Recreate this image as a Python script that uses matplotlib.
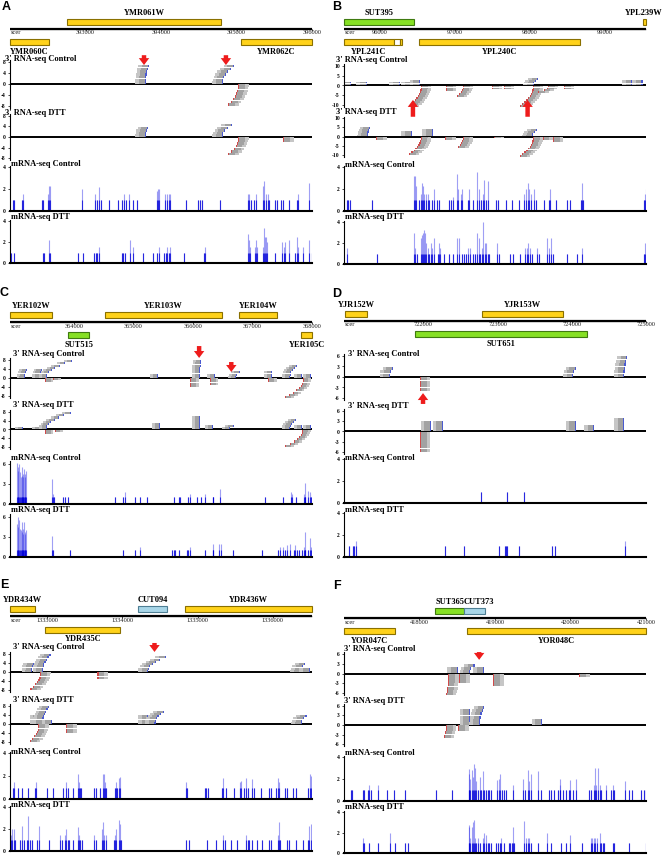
import numpy as np
import matplotlib
matplotlib.use('Agg')
import matplotlib.pyplot as plt
from matplotlib.patches import Rectangle

plt.rcParams['font.family'] = 'Liberation Serif'
plt.rcParams['axes.unicode_minus'] = False

W, H = 663, 855

# ---------------- data ----------------
# genome windows and ruler ticks
A_window = (392000, 396000)
B_window = (95520, 99550)
C_window = (362930, 368000)
D_window = (720930, 725000)
E_window = (1332507, 1336520)
F_window = (417000, 421000)

A_ticks = [393000, 394000, 395000, 396000]
B_ticks = [96000, 97000, 98000, 99000]
C_ticks = [364000, 365000, 366000, 367000, 368000]
D_ticks = [722000, 723000, 724000, 725000]
E_ticks = [1333000, 1334000, 1335000, 1336000]
F_ticks = [418000, 419000, 420000, 421000]

# genes: name, start, end, row, kind
A_genes = [('YMR061W', 392755, 394796, 'top', 'orf'),
           ('YMR060C', 392000, 392517, 'bottom', 'orf'),
           ('YMR062C', 395061, 396000, 'bottom', 'orf')]
B_genes = [('SUT395', 95520, 96453, 'top', 'sut'),
           ('YPL239W', 99505, 99545, 'top', 'orf'),
           ('YPL241C', 95520, 96187, 'bottom', 'orf'),
           ('', 96187, 96266, 'bottom', 'utr'),
           ('', 96266, 96293, 'bottom', 'orf'),
           ('YPL240C', 96520, 98666, 'bottom', 'orf')]
C_genes = [('YER102W', 362930, 363636, 'top', 'orf'),
           ('YER103W', 364526, 366492, 'top', 'orf'),
           ('YER104W', 366777, 367416, 'top', 'orf'),
           ('SUT515', 363904, 364257, 'bottom', 'sut'),
           ('YER105C', 367819, 368000, 'bottom', 'orf')]
D_genes = [('YJR152W', 720944, 721241, 'top', 'orf'),
           ('YJR153W', 722793, 723887, 'top', 'orf'),
           ('SUT651', 721889, 724211, 'bottom', 'sut')]
E_genes = [('YDR434W', 1332507, 1332840, 'top', 'orf'),
           ('CUT094', 1334213, 1334587, 'top', 'cut'),
           ('YDR436W', 1334826, 1336519, 'top', 'orf'),
           ('YDR435C', 1332974, 1333973, 'bottom', 'orf')]
F_genes = [('SUT365', 418206, 418590, 'top', 'sut'),
           ('CUT373', 418590, 418868, 'top', 'cut'),
           ('YOR047C', 417000, 417676, 'bottom', 'orf'),
           ('YOR048C', 418630, 421000, 'bottom', 'orf')]

# 3' RNA-seq read piles: (3' end in bp from window start, reads (+ up / - down), drift of 3' end across the pile)
A_ctrl3 = [(1800, 7, 40), (2820, 7, 150), (3020, -8, -130)]
A_dtt3 = [(1800, 4, 30), (2820, 5, 120), (3020, -7, -130), (3615, -2, 0)]
B_ctrl3 = [(95, 2, 0), (305, 2, 0), (745, 2, 0), (905, 2, 0), (1015, 3, 0), (1025, -11, -160),
           (1360, -3, 0), (1585, -6, -80), (1975, -2, 0), (2135, -2, 0), (2535, 4, 60),
           (2520, -11, -175), (2720, -4, -130), (2935, -2, 0), (3850, 3, 0), (3985, 3, 0)]
B_dtt3 = [(320, 5, 30), (430, -2, 0), (905, 3, 0), (1185, 4, 0), (1025, -10, -160), (1350, -2, 0),
          (1585, -6, -60), (2000, -1, 0), (2520, 4, 60), (2520, -11, -175), (2785, -3, 0), (2650, -2, 0)]
C_ctrl3 = [(250, 4, 40), (505, 4, 30), (620, 8, 420), (590, -2, 0), (720, -1, 0), (2485, 2, 0),
           (3190, 8, 20), (3025, -4, 0), (3445, 2, 0), (3360, -3, 0), (3795, 3, 60), (4400, 3, 0),
           (4335, -2, 0), (4705, 6, 120), (4905, 2, 0), (5055, 2, 0), (4920, -9, -300)]
C_dtt3 = [(220, 1, 0), (505, 1, 0), (620, 8, 400), (590, -2, 0), (755, -1, 0), (2520, 3, 0),
          (3190, 6, 0), (3410, 2, 0), (3695, 2, 60), (4705, 5, 100), (4905, 2, 0), (5055, 2, 0),
          (4905, -8, -280)]
D_ctrl3 = [(620, 3, 40), (1025, -4, 0), (3090, 3, 40), (3780, 6, 40)]
D_dtt3 = [(1175, 3, 0), (1335, 3, 0), (1025, -6, 0), (3130, 3, 0), (3375, 2, 0), (3780, 4, 0)]
E_ctrl3 = [(295, 4, 20), (440, 8, 100), (400, -8, -130), (1160, -3, 0), (1840, 7, 230),
           (3865, 4, 60), (3985, 2, 0)]
E_dtt3 = [(400, 4, 0), (440, 8, 80), (560, 2, 0), (375, -8, -110), (745, -4, 0), (1840, 4, 0),
          (1935, 6, 110), (3880, 4, 60)]
F_ctrl3 = [(1510, 2, 0), (1670, 3, 60), (1855, 2, 0), (1380, -7, -30), (1525, -3, 0),
           (1975, -4, 0), (3115, -1, 0)]
F_dtt3 = [(1670, 5, 0), (1800, 6, 60), (2625, 2, 0), (1350, -4, -30), (1510, -2, 0)]

# mRNA-seq coverage spikes: (bp from window start, height)
A_mctrl = [(40, 1), (50, 1), (155, 1), (170, 1.5), (420, 1), (435, 1), (500, 1.5), (520, 2.3), (530, 2.3),
           (960, 2), (1125, 1.5), (1150, 1), (1185, 2.2), (1205, 1), (1305, 1), (1435, 1), (1480, 1),
           (1515, 1.5), (1535, 1), (1575, 1.5), (1625, 1), (1685, 1), (1945, 1.8), (1955, 2), (1980, 2),
           (2055, 1.5), (2075, 1.5), (2100, 1.5), (2120, 1.5), (2330, 1), (2495, 1), (2520, 1), (2540, 1),
           (2785, 1), (3150, 1.5), (3170, 1.5), (3190, 1), (3235, 1), (3260, 1.5), (3355, 2.3), (3370, 2.7),
           (3390, 1.5), (3415, 1.5), (3435, 1), (3510, 1), (3535, 1), (3590, 1), (3615, 1), (3690, 1),
           (3800, 1), (3810, 1.5), (3965, 2.5)]
A_mdtt = [(10, 1), (50, 1), (440, 1), (455, 1), (520, 2.2), (530, 1), (905, 1), (965, 1), (1115, 1),
          (1135, 1), (1155, 1), (1185, 1.5), (1480, 1), (1500, 1), (1525, 1), (1590, 2.2), (1625, 1.5),
          (1760, 1), (1890, 1), (1945, 1), (1980, 1.5), (2045, 1), (2065, 1), (2085, 1.5), (2100, 1),
          (2120, 1.5), (2310, 1), (2570, 1), (2585, 1.5), (3150, 2.8), (3165, 2.2), (3180, 1.5), (3245, 1.5),
          (3260, 2.2), (3275, 1.5), (3350, 1.5), (3360, 3.3), (3380, 2.5), (3390, 2.5), (3410, 2), (3510, 1),
          (3600, 2), (3630, 1.5), (3645, 2), (3690, 2.2), (3775, 1), (3800, 2.5), (3820, 1.5), (3880, 1.5),
          (3965, 2.2), (3995, 1)]
B_mctrl = [(40, 1), (60, 1), (85, 1), (370, 1), (930, 3.2), (945, 3.2), (960, 2.3), (1005, 1), (1025, 1.5),
           (1040, 2.5), (1055, 2.3), (1070, 1.5), (1095, 1.5), (1115, 1.5), (1140, 1), (1180, 1), (1205, 2),
           (1240, 1), (1270, 1), (1405, 1), (1425, 1), (1450, 1.3), (1505, 3.4), (1525, 2), (1560, 1.5),
           (1580, 2), (1650, 1), (1670, 2), (1715, 1), (1775, 3.5), (1795, 2), (1825, 1), (1850, 1.5),
           (1870, 2.8), (1895, 1), (1915, 2.7), (2035, 1), (2050, 1), (2160, 1), (2240, 1), (2335, 1),
           (2405, 1.5), (2425, 2), (2450, 2.5), (2470, 2), (2495, 1.5), (2535, 2), (2560, 1), (2670, 1),
           (2735, 1), (2750, 2), (2825, 1), (2970, 1), (3015, 1), (3160, 1), (3180, 2.5), (3195, 1),
           (4000, 1), (4015, 1.5), (4025, 2)]
B_mdtt = [(40, 1.5), (440, 1), (930, 3), (945, 1.5), (975, 1), (1025, 2.5), (1040, 2.8), (1055, 3),
          (1070, 3.2), (1085, 3), (1100, 2), (1115, 1.5), (1140, 1), (1160, 2), (1180, 1.5), (1205, 2.5),
          (1250, 1), (1270, 2), (1285, 1.5), (1340, 1), (1405, 1), (1450, 1), (1505, 2.5), (1540, 2.5),
          (1570, 1), (1595, 1), (1625, 1), (1655, 1.5), (1685, 1.5), (1715, 1), (1745, 1), (1775, 3),
          (1795, 2.5), (1815, 1), (1835, 1.5), (1860, 4), (1880, 2), (1895, 2), (1915, 1), (1935, 1),
          (2040, 2), (2070, 1), (2215, 1), (2250, 1), (2350, 1), (2415, 1.5), (2440, 1.5), (2460, 2),
          (2485, 1.5), (2515, 1), (2580, 1.5), (2605, 1), (2715, 2.5), (2735, 1.5), (2760, 2.5), (2795, 1),
          (2970, 1), (3115, 1), (3180, 1.5), (4000, 1), (4015, 2), (4025, 1.5)]
C_mctrl = [(120, 6.2), (130, 5.5), (140, 5), (155, 6), (165, 4.8), (180, 4), (195, 5.5), (205, 4.2),
           (215, 4), (225, 4.5), (235, 5.2), (250, 4.5), (260, 4), (270, 5), (710, 3.7), (730, 1.5),
           (745, 1), (895, 1), (915, 1), (980, 1), (1755, 1), (1905, 1), (1930, 1.8), (2100, 1), (2185, 1),
           (2295, 1), (2745, 1), (2830, 1), (2855, 1), (2980, 1), (3025, 1.5), (3135, 1), (3210, 1),
           (3275, 1.5), (3400, 1), (3415, 1), (3530, 2.2), (4275, 1), (4580, 1), (4715, 1.8), (4730, 1.5),
           (4805, 1), (4930, 1.5), (4945, 3.2), (4960, 1), (5010, 2), (5040, 1.8), (5060, 1), (5070, 1.5)]
C_mdtt = [(120, 5), (130, 4.5), (140, 6), (155, 5.5), (165, 4.2), (180, 4), (195, 5.2), (205, 3.8),
          (215, 3.5), (225, 4.2), (235, 5.3), (250, 3.8), (260, 3.5), (270, 4), (710, 3.2), (730, 1),
          (1010, 1), (1905, 1), (2100, 1), (2175, 1.5), (2715, 1), (2745, 1), (2770, 1), (2840, 1),
          (2970, 1), (2995, 1), (3025, 1.5), (3275, 1), (3405, 2), (3415, 1), (3515, 2), (3540, 2),
          (3750, 1), (4230, 1), (4495, 1), (4525, 1.5), (4580, 1.5), (4610, 1), (4650, 1.8), (4695, 2),
          (4760, 1), (4790, 1.8), (4815, 1), (4860, 1), (4900, 1), (4930, 1.5), (4945, 3.8), (4960, 1),
          (5010, 1), (5030, 2.8), (5050, 1.5), (5070, 1)]
D_mctrl = [(1840, 1), (2195, 1), (2425, 1)]
D_mdtt = [(70, 1), (115, 1), (140, 1), (155, 1.5), (1365, 1), (1615, 1), (2085, 1), (2165, 1), (2180, 1),
          (2190, 1), (2365, 1), (2805, 1), (2840, 1), (3785, 1.5)]
E_mctrl = [(35, 1), (55, 1.5), (100, 1), (165, 1), (245, 1), (335, 1), (345, 1.5), (490, 1), (565, 1),
           (710, 1), (745, 1.5), (770, 1), (835, 1), (900, 2.2), (915, 1.5), (935, 1), (950, 1), (1110, 1),
           (1140, 1), (1200, 1), (1230, 2.2), (1245, 2.2), (1260, 1.5), (1280, 1), (1390, 1), (1410, 1.5),
           (1420, 1), (1445, 1.8), (1460, 1.9), (2345, 1.5), (2355, 1), (2590, 1), (2610, 1), (2630, 1),
           (2820, 1), (2835, 1.8), (2875, 1), (2975, 1), (3055, 1.5), (3075, 1.6), (3110, 1), (3140, 1.8),
           (3165, 1), (3220, 1.7), (3245, 1), (3335, 1), (3445, 1), (3465, 1), (3535, 1), (3565, 1.8),
           (3575, 1.5), (3655, 1), (3680, 1), (3755, 1), (3800, 1), (3965, 1), (3980, 2.2), (3995, 2)]
E_mdtt = [(15, 1.5), (30, 2), (55, 2), (65, 1), (135, 1), (165, 2.3), (185, 1), (220, 1), (245, 3.2),
          (265, 1), (290, 1), (355, 1), (385, 2.3), (520, 1), (660, 1.5), (690, 1), (725, 1.5), (745, 2),
          (770, 1), (780, 1), (835, 1), (900, 2.2), (920, 1.5), (935, 1), (955, 1), (1110, 1.5), (1140, 1),
          (1220, 2), (1235, 2.6), (1255, 1.5), (1280, 1.5), (1380, 1), (1390, 1.5), (1410, 2), (1445, 2.8),
          (1460, 2.5), (1475, 1), (2335, 1), (2375, 1), (2620, 1), (2735, 1), (2835, 1.5), (2855, 1),
          (2935, 1), (3020, 1), (3140, 1.5), (3165, 1), (3175, 1), (3220, 1), (3280, 1), (3355, 1),
          (3445, 1), (3465, 1), (3555, 1.5), (3570, 2.6), (3590, 1), (3680, 1), (3710, 1), (3800, 1),
          (3890, 1), (3965, 1), (3975, 2.3), (3995, 2.5)]
F_mctrl = [(95, 1), (105, 1), (250, 1), (260, 1), (315, 1), (335, 1.5), (360, 1), (445, 1.5), (565, 1),
           (665, 1), (810, 1), (1220, 1), (1430, 1), (1650, 2.9), (1660, 2.5), (1675, 2), (1690, 2.8),
           (1705, 2.2), (1720, 3.4), (1730, 3), (1750, 1.8), (1770, 1), (1795, 2.2), (1815, 1), (1840, 2.7),
           (1860, 1), (1875, 1), (1905, 1), (1925, 1), (1950, 1), (2025, 1.9), (2050, 2), (2070, 2.5),
           (2090, 1), (2115, 1), (2145, 1), (2235, 1.5), (2375, 2), (2400, 1), (2435, 2.8), (2455, 1.8),
           (2480, 2.5), (2575, 2.7), (2610, 1), (2710, 1), (2745, 1), (2785, 1), (2830, 1), (2855, 1.5),
           (2865, 2), (2900, 1), (2940, 1), (2975, 1), (3000, 1.9), (3030, 1), (3075, 2), (3250, 1),
           (3265, 1), (3310, 1.5), (3325, 3), (3340, 1.5), (3360, 3), (3385, 1.5), (3405, 1), (3470, 1.5),
           (3530, 1), (3560, 1.5), (3580, 1), (3725, 1.8), (3770, 1), (3815, 1), (3935, 1), (3970, 1),
           (4000, 1)]
F_mdtt = [(250, 1.5), (260, 1), (335, 1), (445, 1), (615, 2), (675, 1), (810, 1), (845, 1), (1650, 2.7),
          (1660, 2.5), (1675, 1.5), (1690, 2.5), (1705, 3), (1720, 3.2), (1730, 1.5), (1750, 1), (1770, 1.5),
          (1795, 1), (1840, 1.5), (1860, 2), (1880, 1.8), (1905, 1), (1925, 1), (1950, 1), (2015, 1),
          (2035, 1), (2060, 1), (2080, 1.5), (2115, 1), (2180, 1), (2200, 1), (2220, 1), (2235, 2.5),
          (2255, 1), (2380, 3.1), (2405, 1.5), (2435, 1.5), (2455, 1.5), (2480, 1), (2575, 1), (2690, 2),
          (2745, 1), (2875, 1), (2940, 1), (3000, 1.8), (3150, 1), (3265, 1.5), (3280, 1.5), (3310, 1.5),
          (3325, 1.5), (3350, 1.5), (3385, 2), (3405, 1), (3430, 1), (3450, 1), (3560, 1), (3580, 1),
          (3780, 1), (4000, 1)]

# red arrows on the control 3' track: (bp from window start, tip, tail) in track units
A_arrows = [(1775, 6.9, 10.5), (2860, 6.9, 10.5)]
B_arrows = [(920, -7.4, -16), (2450, -7.4, -16)]
C_arrows = [(3175, 8.9, 14.2), (3715, 2.7, 7.1)]
D_arrows = [(1065, -4.6, -7.7)]
E_arrows = [(1920, 8.9, 12.9)]
F_arrows = [(1790, 4.2, 6.6)]

# ---------------- layout (pixels) ----------------
COLS = {0: (10, 312), 1: (344, 646)}
GENE_COLORS = {'orf': ('#ffd21a', '#8a7000'), 'sut': ('#86e024', '#3f7a10'),
               'cut': ('#a8d6e8', '#4f7f94'), 'utr': ('white', '#8a7000')}
# labels that sit against a neighbour instead of being centred
LABEL_ANCHOR = {'SUT365': 'right', 'CUT373': 'left'}
READ_LEN = 140

LAYOUT = {
    'A': dict(col=0, letter=(6.5, 7.5), gy=8, dx3=-5, lim3=8.6, t3=[-8, -4, 0, 4, 8], limm=4.1, tm=[0, 2, 4],
              boxes=[(59, 60.4, 107.6), (113, 114.4, 159.6), (164, 165.9, 211), (217, 220, 263)]),
    'B': dict(col=1, letter=(336.5, 7.5), gy=8, dx3=-8, lim3=10.8, t3=[-10, -5, 0, 5, 10], limm=4.1, tm=[0, 2, 4],
              boxes=[(60, 64.4, 106.6), (112, 116.5, 156.5), (165, 165.9, 211), (217, 221, 264)]),
    'C': dict(col=0, letter=(4.5, 293), gy=301, dx3=3, lim3=9, t3=[-8, -4, 0, 4, 8], limm=6.4, tm=[0, 3, 6],
              boxes=[(354, 357.75, 398.25), (405, 409.8, 449.2), (458, 461.3, 504), (510, 514.3, 557)]),
    'D': dict(col=1, letter=(336.5, 293.5), gy=300, dx3=4, lim3=6.5, t3=[-6, -3, 0, 3, 6], limm=4.1, tm=[0, 2, 4],
              boxes=[(354, 354.25, 399.75), (406, 409.3, 453.7), (458, 457.9, 503), (510, 511.9, 557)]),
    'E': dict(col=0, letter=(4.5, 585), gy=595, dx3=3, lim3=9, t3=[-8, -4, 0, 4, 8], limm=4.1, tm=[0, 2, 4],
              boxes=[(647, 651.75, 692.25), (700, 703.75, 744.25), (752, 751.9, 799), (805, 805.9, 851)]),
    'F': dict(col=1, letter=(336.5, 586), gy=597, dx3=0, lim3=6.5, t3=[-6, -3, 0, 3, 6], limm=4.1, tm=[0, 2, 4],
              boxes=[(649, 652.4, 694.6), (701, 704.4, 745.6), (753, 755.9, 801), (807, 811, 853)]),
}

PANELS = {
    'A': (A_window, A_ticks, A_genes, A_ctrl3, A_dtt3, A_mctrl, A_mdtt, A_arrows),
    'B': (B_window, B_ticks, B_genes, B_ctrl3, B_dtt3, B_mctrl, B_mdtt, B_arrows),
    'C': (C_window, C_ticks, C_genes, C_ctrl3, C_dtt3, C_mctrl, C_mdtt, C_arrows),
    'D': (D_window, D_ticks, D_genes, D_ctrl3, D_dtt3, D_mctrl, D_mdtt, D_arrows),
    'E': (E_window, E_ticks, E_genes, E_ctrl3, E_dtt3, E_mctrl, E_mdtt, E_arrows),
    'F': (F_window, F_ticks, F_genes, F_ctrl3, F_dtt3, F_mctrl, F_mdtt, F_arrows),
}

fig = plt.figure(figsize=(W / 100, H / 100), dpi=100)


def px_axes(x0, x1, top, bottom):
    return fig.add_axes([x0 / W, 1 - bottom / H, (x1 - x0) / W, (bottom - top) / H])


def fig_text(x, y, s, **kw):
    fig.text(x / W, 1 - y / H, s, **kw)


def draw_genes(ax, window, ticks, genes):
    ax.set_xlim(window)
    ax.set_ylim(50, 0)
    ax.axis('off')
    for name, s, e, row, kind in genes:
        y = 11 if row == 'top' else 31.5
        fc, ec = GENE_COLORS[kind]
        ax.add_patch(Rectangle((s, y), e - s, 6, facecolor=fc, edgecolor=ec, lw=0.8, clip_on=False))
        if name:
            ty = 5 if row == 'top' else 44
            anchor = LABEL_ANCHOR.get(name, 'center')
            tx = {'center': (s + e) / 2, 'right': e, 'left': s}[anchor]
            ax.text(tx, ty, name, ha=anchor, va='center', fontsize=6, fontweight='bold')
    # ruler
    ax.plot(window, [21.3, 21.3], color='#999999', lw=1.0, solid_capstyle='butt', clip_on=False)
    ax.plot(window, [20.6, 20.6], color='black', lw=1.6, solid_capstyle='butt', clip_on=False)
    ax.vlines(ticks, 20.6, 23, color='black', lw=0.5, clip_on=False)
    for t in ticks:
        ax.text(t, 25, str(t), ha='center', va='center', fontsize=4.6, color='#222222')
    ax.text(window[0] + 10, 25, 'scer', ha='left', va='center', fontsize=4.6, color='#222222')


def style_track(ax, window, lim, ticks):
    ax.set_xlim(window)
    ax.set_ylim(lim)
    ax.set_xticks([])
    ax.set_yticks(ticks)
    ax.tick_params(axis='y', length=1.5, width=0.5, labelsize=4, pad=1.5)
    for lab in ax.get_yticklabels():
        lab.set_fontweight('bold')
    for side in ['top', 'right']:
        ax.spines[side].set_visible(False)
    ax.spines['left'].set_linewidth(0.8)
    ax.patch.set_alpha(0)


def draw_reads(ax, start, clusters):
    for pos, h, drift in clusters:
        n = abs(h)
        steps = np.arange(n) / max(n - 1, 1)
        ends = start + pos + drift * steps ** 2
        if h > 0:
            ys = np.arange(n) + 0.5
            ax.barh(ys, READ_LEN, left=ends - READ_LEN, height=0.95, color='#c6c6c6', lw=0)
            ax.barh(ys, READ_LEN * 0.65, left=ends - READ_LEN * 0.65, height=0.95, color='#a2a2a2', lw=0)
            ax.barh(ys, 16, left=ends - 16, height=0.95, color='#4a5ad0', lw=0)
        else:
            ys = -np.arange(n) - 0.5
            ax.barh(ys, READ_LEN, left=ends, height=0.95, color='#c6c6c6', lw=0)
            ax.barh(ys, READ_LEN * 0.65, left=ends, height=0.95, color='#a2a2a2', lw=0)
            ax.barh(ys, 16, left=ends, height=0.95, color='#d04a4a', lw=0)


def draw_mrna(ax, start, spikes):
    x = start + np.array([p for p, _ in spikes])
    h = np.array([v for _, v in spikes])
    ax.vlines(x, 0, h, color='#2a2ae8', alpha=0.45, lw=0.8)
    ax.vlines(x, 0, np.minimum(h, 1), color='#0000d8', alpha=0.75, lw=0.8)


for key, (window, ticks, genes, ctrl3, dtt3, mctrl, mdtt, arrows) in PANELS.items():
    lay = LAYOUT[key]
    x0, x1 = COLS[lay['col']]
    start = window[0]

    fig_text(lay['letter'][0], lay['letter'][1], key, family='Liberation Sans', fontweight='bold',
             fontsize=9, ha='center', va='center')

    gax = px_axes(x0, x1, lay['gy'], lay['gy'] + 50)
    draw_genes(gax, window, ticks, genes)

    titles = ["3' RNA-seq Control", "3' RNA-seq DTT", 'mRNA-seq Control', 'mRNA-seq DTT']
    axes = []
    for i, (ly, top, bottom) in enumerate(lay['boxes']):
        ax = px_axes(x0, x1, top, bottom)
        if i < 2:
            style_track(ax, window, (-lay['lim3'], lay['lim3']), lay['t3'])
            ax.spines['bottom'].set_visible(False)
            ax.axhline(0, color='black', lw=1.4, zorder=1)
            draw_reads(ax, start, ctrl3 if i == 0 else dtt3)
            tx = x0 + lay['dx3']
        else:
            style_track(ax, window, (0, lay['limm']), lay['tm'])
            ax.spines['bottom'].set_linewidth(1.5)
            draw_mrna(ax, start, mctrl if i == 2 else mdtt)
            tx = x0 + 1
        fig_text(tx, ly, titles[i], fontsize=6, fontweight='bold', ha='left', va='center')
        axes.append(ax)

    for pos, tip, tail in arrows:
        axes[0].annotate('', xy=(start + pos, tip), xytext=(start + pos, tail),
                         arrowprops=dict(arrowstyle='simple,head_length=0.5,head_width=0.75,tail_width=0.32',
                                         color='#ee1c1c', lw=0, shrinkA=0, shrinkB=0),
                         annotation_clip=False, zorder=5)

fig.savefig('out.png', dpi=100)
